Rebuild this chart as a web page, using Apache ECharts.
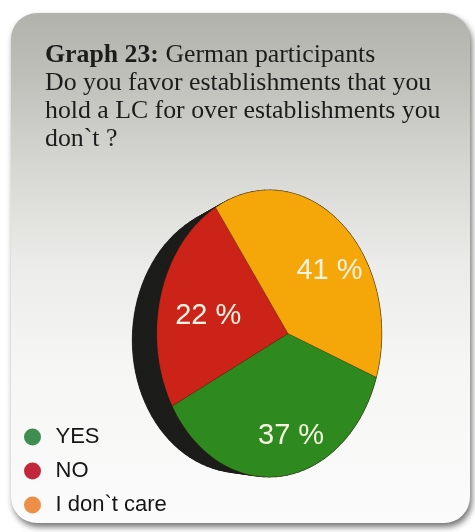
<!DOCTYPE html>
<html>
<head>
<meta charset="utf-8">
<script src="https://cdn.jsdelivr.net/npm/echarts@6/dist/echarts.min.js"></script>
<style>
  html, body { margin: 0; padding: 0; background: #ffffff; }
  #chart { width: 475px; height: 532px; }
</style>
</head>
<body>
<div id="chart"></div>
<script>
// Survey answers
const categories = ['YES', 'NO', 'I don`t care'];
const shares = [37, 22, 41];
const sliceColors = ['#2e8a1f', '#cc2319', '#f5a70a'];
const legendColors = ['#3d8e4f', '#c3283a', '#ef8e46'];

// Disc seen in perspective: turned about the vertical axis so its left side is nearer
const disc = {
  hubX: 288, hubY: 333.5,   // projected centre of the disc
  scale: 539, dist: 3.81,   // projection scale and camera distance (disc radius = 1)
  turnDeg: 39.4,            // rotation about the vertical axis
  startDeg: 21,             // first slice boundary, clockwise from 3 o'clock
  thickness: 0.352, sag: 0.12,
  labelRadius: 0.67, labelDrop: 8
};
const turn = disc.turnDeg * Math.PI / 180;
const cosT = Math.cos(turn), sinT = Math.sin(turn);

// Disc-local point (X, Y) at depth w behind the front face -> screen pixels
function project(X, Y, w) {
  const x = X * cosT - w * sinT;
  const y = Y + w * disc.sag;
  const z = X * sinT + w * cosT;
  const f = disc.scale / (disc.dist + z);
  return [disc.hubX + x * f, disc.hubY + y * f];
}
function rim(deg, r, w) {
  const t = deg * Math.PI / 180;
  return project(r * Math.cos(t), r * Math.sin(t), w || 0);
}

const total = shares.reduce((a, b) => a + b, 0);
const startAngles = [];
let acc = 0;
shares.forEach(v => { startAngles.push(disc.startDeg + acc / total * 360); acc += v; });

// Thickness of the disc: back face plus the side band joining it to the front rim
const sideShapes = [];
const sideColor = '#1c1c1a';
const backPts = [];
for (let d = 0; d < 360; d += 3) backPts.push(rim(d, 1, disc.thickness));
sideShapes.push({ type: 'polygon', z: -10, shape: { points: backPts }, style: { fill: sideColor } });
for (let d = 0; d < 360; d += 3) {
  sideShapes.push({
    type: 'polygon', z: -10,
    shape: { points: [rim(d, 1), rim(d + 3, 1), rim(d + 3, 1, disc.thickness), rim(d, 1, disc.thickness)] },
    style: { fill: sideColor, stroke: sideColor, lineWidth: 0.6 }
  });
}

function sliceRenderer(i) {
  return function (params, api) {
    const value = api.value(0);
    const a0 = startAngles[i];
    const span = value / total * 360;
    const pts = [[disc.hubX, disc.hubY]];
    const steps = Math.max(8, Math.ceil(span / 2));
    for (let k = 0; k <= steps; k++) pts.push(rim(a0 + span * k / steps, 1));
    const mid = rim(a0 + span / 2, disc.labelRadius);
    return {
      type: 'group',
      children: [
        {
          type: 'polygon',
          shape: { points: pts },
          style: { fill: sliceColors[i], stroke: 'rgba(60,30,0,0.25)', lineWidth: 1 }
        },
        {
          type: 'text',
          x: mid[0], y: mid[1] + disc.labelDrop,
          style: {
            text: value + ' %',
            fill: '#f6f3e2',
            font: '29px "Liberation Sans", Arial, sans-serif',
            align: 'center',
            verticalAlign: 'middle'
          }
        }
      ]
    };
  };
}

const chart = echarts.init(document.getElementById('chart'), null, { renderer: 'canvas' });

chart.setOption({
  animation: false,
  graphic: [
    {
      type: 'rect',
      z: -20,
      shape: { x: 11, y: 13, width: 459, height: 510, r: 26 },
      style: {
        fill: new echarts.graphic.LinearGradient(0, 0, 0, 1, [
          { offset: 0, color: '#b2b2ad' },
          { offset: 0.12, color: '#bfbfba' },
          { offset: 0.3, color: '#d6d6d2' },
          { offset: 0.5, color: '#ececea' },
          { offset: 0.7, color: '#f6f6f5' },
          { offset: 1, color: '#fbfbfb' }
        ]),
        shadowColor: 'rgba(0,0,0,0.55)',
        shadowBlur: 6,
        shadowOffsetX: 2,
        shadowOffsetY: 4
      }
    }
  ].concat(sideShapes),
  title: {
    left: 45,
    top: 41,
    padding: 0,
    text: '{b|Graph 23:} German participants\nDo you favor establishments that you\nhold a LC for over establishments you\ndon`t ?',
    textStyle: {
      fontFamily: '"Liberation Serif", "Times New Roman", serif',
      fontSize: 25.8,
      fontWeight: 'normal',
      color: '#1c1c1a',
      lineHeight: 28,
      rich: {
        b: {
          fontFamily: '"Liberation Serif", "Times New Roman", serif',
          fontSize: 25.8,
          fontWeight: 'bold',
          color: '#1c1c1a',
          lineHeight: 28
        }
      }
    }
  },
  legend: {
    orient: 'vertical',
    left: 24,
    top: 426,
    padding: 0,
    icon: 'circle',
    itemWidth: 36,
    itemHeight: 17,
    itemGap: 12,
    selectedMode: false,
    data: categories.map((name, i) => ({ name, itemStyle: { color: legendColors[i] } })),
    textStyle: {
      fontFamily: '"Liberation Sans", Arial, sans-serif',
      fontSize: 22,
      lineHeight: 22,
      color: '#151515'
    }
  },
  series: categories.map((name, i) => ({
    type: 'custom',
    name,
    coordinateSystem: 'none',
    itemStyle: { color: legendColors[i] },
    renderItem: sliceRenderer(i),
    data: [[shares[i]]]
  }))
});
</script>
</body>
</html>
